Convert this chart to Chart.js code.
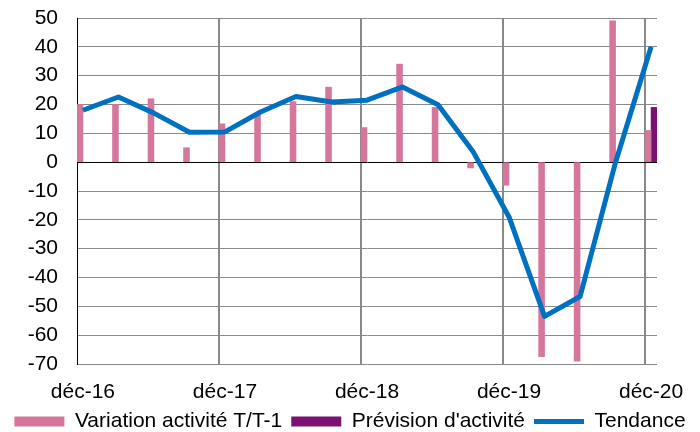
<!DOCTYPE html>
<html>
<head>
<meta charset="utf-8">
<script src="https://cdn.jsdelivr.net/npm/chart.js@4/dist/chart.umd.min.js"></script>
<style>
  html, body { margin: 0; padding: 0; background: #fff; }
</style>
</head>
<body>
<canvas id="activityChart" width="700" height="432"></canvas>
<script>
// monthly slots, dec 2016 -> dec 2020 (data only at quarter ends)
const months = [
  'déc-16','janv-17','févr-17','mars-17','avr-17','mai-17','juin-17','juil-17','août-17','sept-17','oct-17','nov-17',
  'déc-17','janv-18','févr-18','mars-18','avr-18','mai-18','juin-18','juil-18','août-18','sept-18','oct-18','nov-18',
  'déc-18','janv-19','févr-19','mars-19','avr-19','mai-19','juin-19','juil-19','août-19','sept-19','oct-19','nov-19',
  'déc-19','janv-20','févr-20','mars-20','avr-20','mai-20','juin-20','juil-20','août-20','sept-20','oct-20','nov-20',
  'déc-20'
];
const quarters = ['déc-16','mars-17','juin-17','sept-17','déc-17','mars-18','juin-18','sept-18','déc-18',
                  'mars-19','juin-19','sept-19','déc-19','mars-20','juin-20','sept-20','déc-20'];
const variation = [20, 20, 22, 5, 13.3, 16.5, 21, 26, 12, 34, 19, -2, -8, -67.5, -69, 49, 11];
const prevision = [null, null, null, null, null, null, null, null, null, null, null, null, null, null, null, null, 19];
const tendance  = [18, 22.6, 17, 10.4, 10.5, 17.4, 22.8, 20.9, 21.5, 26.1, 19.9, 3.4, -19, -53.5, -46.6, 0, 40];
const yTicks = { min: -70, max: 50, step: 10 };

const PINK = '#D5779C', PURPLE = '#7B1273', BLUE = '#0070C0', GRID = '#898989';
const font = { family: 'Liberation Sans, Arial, sans-serif', size: 21 };

function toMonthly(values){
  const out = months.map(() => null);
  quarters.forEach((q, i) => { out[months.indexOf(q)] = values[i]; });
  return out;
}

new Chart(document.getElementById('activityChart'), {
  type: 'bar',
  data: {
    labels: months,
    datasets: [
      { label: 'Variation activité T/T-1', data: toMonthly(variation), backgroundColor: PINK, borderWidth: 0,
        categoryPercentage: 1, barPercentage: 1, pointStyle: 'rect', order: 1 },
      { label: "Prévision d'activité", data: toMonthly(prevision), backgroundColor: PURPLE, borderWidth: 0,
        categoryPercentage: 1, barPercentage: 1, pointStyle: 'rect', order: 2 },
      { type: 'line', label: 'Tendance', data: toMonthly(tendance), borderColor: BLUE, backgroundColor: BLUE,
        borderWidth: 5, pointRadius: 0, pointStyle: 'line', spanGaps: true, tension: 0,
        borderJoinStyle: 'round', borderCapStyle: 'butt', order: 0 }
    ]
  },
  options: {
    responsive: false,
    animation: false,
    events: [],
    layout: { padding: { top: 18, left: 0, right: 0, bottom: -10 } },
    scales: {
      x: {
        grid: {
          offset: true, drawTicks: false, lineWidth: 2,
          color: ctx => (ctx.index !== undefined && ctx.index > 0 && ctx.index % 12 === 0) ? GRID : 'rgba(0,0,0,0)'
        },
        border: { display: false },
        ticks: { autoSkip: false, maxRotation: 0, padding: 16, color: '#000', font,
                 callback: (v, i) => i % 12 === 0 ? months[i] : '' },
        afterFit: s => { s.height = 38; }
      },
      y: {
        min: yTicks.min, max: yTicks.max,
        ticks: { stepSize: yTicks.step, autoSkip: false, padding: 0, color: '#000', font },
        grid: { drawTicks: true, tickLength: 19, tickColor: 'rgba(0,0,0,0)', lineWidth: 1,
                color: ctx => (ctx.tick && ctx.tick.value === 0) ? '#000' : GRID },
        border: { display: true, color: '#000', width: 1 },
        afterFit: s => { s.width = 77; }
      },
      yRight: {
        position: 'right', display: true,
        ticks: { display: false }, grid: { display: false }, border: { display: false },
        afterFit: s => { s.width = 43; }
      }
    },
    plugins: {
      tooltip: { enabled: false },
      legend: {
        position: 'bottom',
        labels: {
          font, color: '#000', usePointStyle: true, pointStyleWidth: 50, boxHeight: 10, padding: 9,
          sort: (a, b) => a.datasetIndex - b.datasetIndex
        }
      }
    }
  }
});
</script>
</body>
</html>
